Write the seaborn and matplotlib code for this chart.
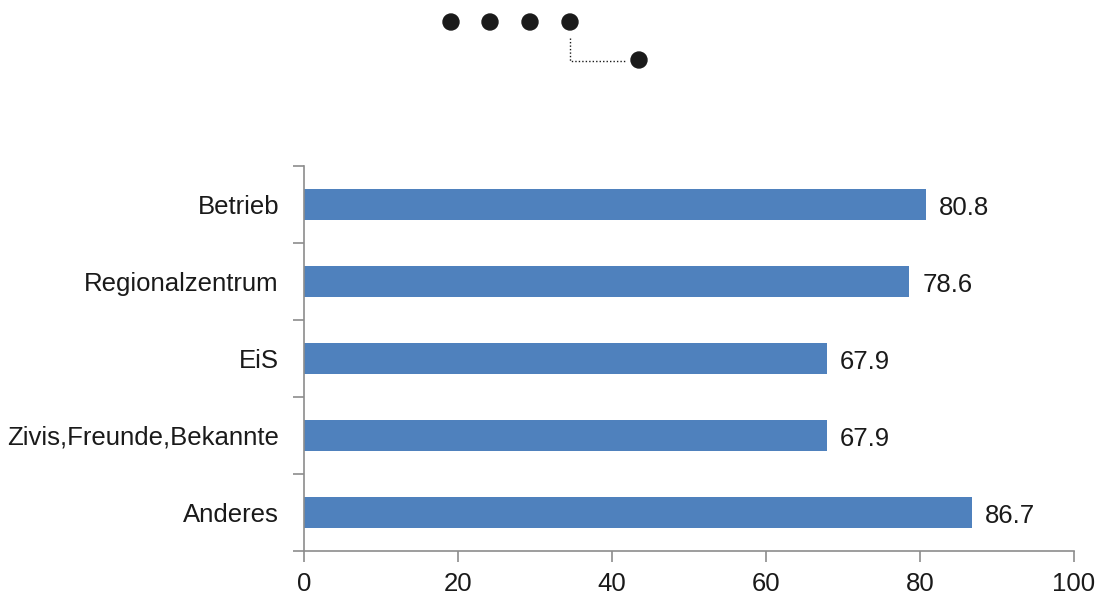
import matplotlib
matplotlib.use("Agg")
import matplotlib.pyplot as plt
import seaborn as sns
import pandas as pd
import numpy as np
from matplotlib.lines import Line2D
from matplotlib.patches import Circle

categories = ["Betrieb", "Regionalzentrum", "EiS", "Zivis,Freunde,Bekannte", "Anderes"]
values = [80.8, 78.6, 67.9, 67.9, 86.7]
xticks = [0, 20, 40, 60, 80, 100]

sns.set_theme(style="white")
plt.rcParams['font.family'] = ['Liberation Sans', 'DejaVu Sans']

FS = 18.5
W, H = 1100, 598
fig = plt.figure(figsize=(W / 100, H / 100), dpi=100)
ax = fig.add_axes([304 / W, 1 - 551 / H, (1074 - 304) / W, (551 - 166) / H])

df = pd.DataFrame({"cat": categories, "val": values})
sns.barplot(data=df, x="val", y="cat", orient="h", color="#4F81BD", saturation=1,
            width=0.4, ax=ax, edgecolor="none")

ax.set_xlim(0, 100)
ax.set_ylim(len(categories) - 0.5, -0.5)
ax.set_xlabel("")
ax.set_ylabel("")
ax.set_xticks(xticks)
ax.set_xticklabels([str(t) for t in xticks], fontsize=FS, color="#1a1a1a")
ax.set_yticks(range(len(categories)))
ax.set_yticklabels(categories, fontsize=FS, color="#1a1a1a")
ax.set_yticks(np.arange(-0.5, len(categories), 1.0), minor=True)
ax.tick_params(axis="y", which="major", length=0, pad=18)
ax.tick_params(axis="y", which="minor", length=8, width=1.2, color="#8c8c8c", left=True)
ax.tick_params(axis="x", which="major", length=8, width=1.2, color="#8c8c8c", bottom=True, pad=7)

for s in ["top", "right"]:
    ax.spines[s].set_visible(False)
for s in ["left", "bottom"]:
    ax.spines[s].set_color("#8c8c8c")
    ax.spines[s].set_linewidth(1.2)

for i, v in enumerate(values):
    ax.text(v + 1.7, i + 0.05, f"{v:.1f}", va="center", ha="left", fontsize=FS, color="#1a1a1a")

# decorative logo dots
deco = fig.add_axes([0, 0, 1, 1], zorder=5)
deco.set_xlim(0, W)
deco.set_ylim(H, 0)
deco.axis("off")
for cx in [451, 490, 530, 570]:
    deco.add_patch(Circle((cx, 22), 8, color="#1a1a1a"))
deco.add_patch(Circle((639, 60), 8, color="#1a1a1a"))
deco.add_line(Line2D([570, 570, 625], [38, 61, 61], color="#1a1a1a", lw=1, linestyle=(0, (1, 1.5))))

fig.savefig("out.png", dpi=100)
